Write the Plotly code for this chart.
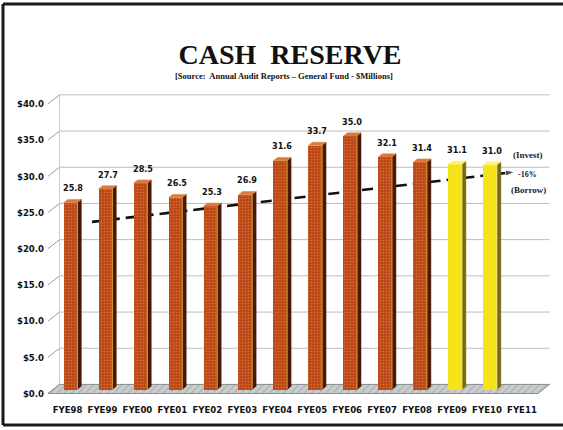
import plotly.graph_objects as go

# ---- data -------------------------------------------------------------
years = ["FYE98", "FYE99", "FYE00", "FYE01", "FYE02", "FYE03", "FYE04",
         "FYE05", "FYE06", "FYE07", "FYE08", "FYE09", "FYE10", "FYE11"]
reserve = [25.8, 27.7, 28.5, 26.5, 25.3, 26.9, 31.6,
           33.7, 35.0, 32.1, 31.4, 31.1, 31.0]          # $ millions
projected = [False] * 11 + [True] * 2                    # FYE09, FYE10 highlighted
y_ticks = [0, 5, 10, 15, 20, 25, 30, 35, 40]
y_tick_text = ["$0.0", "$5.0", "$10.0", "$15.0", "$20.0", "$25.0",
               "$30.0", "$35.0", "$40.0"]
trend_x = [0.70, 12.80]      # year-index positions of the trend arrow
trend_y = [23.7, 30.6]       # trend values at those positions

# ---- geometry of the oblique 3-D look -----------------------------------
X_RANGE = [-0.615, 13.86]
Y_RANGE = [-0.345, 42.47]
DEPTH_X, DEPTH_Y = 0.33, 1.25          # back wall offset (front -> back)
MID_X, MID_Y = 0.086, 0.55             # bars sit half-way in depth
BAR_W = 0.39
SIDE_X, SIDE_Y = 0.115, 0.45           # bar side / top face extent
FLOOR_L, FLOOR_R = -0.558, 13.46

L, R, T, B = 46, 11, 86, 34
W, H = 563, 430
PW, PH = W - L - R, H - T - B


def paper_x(px):
    return (px - L) / PW


def paper_y(py):
    return (H - B - py) / PH


ORANGE = dict(front="#bb4619", dots="#e99a40", side="#4a1806", top="#dc7a3e",
              edge="#e8b030")
YELLOW = dict(front="#f6e21a", dots="#fff27a", side="#7a680a", top="#fff36e",
              edge="#fff8a0")

fig = go.Figure()

# floor slab
fig.add_trace(go.Scatter(
    x=[FLOOR_L, FLOOR_R, FLOOR_R + DEPTH_X, FLOOR_L + DEPTH_X, FLOOR_L],
    y=[0, 0, DEPTH_Y, DEPTH_Y, 0],
    mode="lines", fill="toself", fillcolor="#c3c7c7",
    fillpattern=dict(shape="/", fgcolor="#8e9494", bgcolor="#c9cdcd",
                     size=5, solidity=0.25),
    line=dict(color="#8a8f8f", width=1), hoverinfo="skip", showlegend=False))

# bars: front faces
for group, colors in ((False, ORANGE), (True, YELLOW)):
    idx = [i for i, p in enumerate(projected) if p == group]
    fig.add_trace(go.Bar(
        x=idx, y=[reserve[i] for i in idx], width=BAR_W,
        xaxis="x2", yaxis="y2",
        marker=dict(color=colors["front"], line=dict(width=0),
                    pattern=dict(shape="." if not group else "",
                                 fgcolor=colors["dots"], size=3, solidity=0.25)),
        hoverinfo="skip", showlegend=False))

    # side and top faces, computed from the same values
    sx, sy, tx, ty, ex, ey = [], [], [], [], [], []
    for i in idx:
        v = reserve[i]
        r = i + BAR_W / 2
        l = i - BAR_W / 2
        sx += [r, r + SIDE_X, r + SIDE_X, r, r, None]
        sy += [0, SIDE_Y, v + SIDE_Y, v, 0, None]
        tx += [l, r, r + SIDE_X, l + SIDE_X, l, None]
        ty += [v, v, v + SIDE_Y, v + SIDE_Y, v, None]
        ex += [r, r, None]
        ey += [0, v, None]
    fig.add_trace(go.Scatter(x=sx, y=sy, xaxis="x2", yaxis="y2", mode="lines",
                             fill="toself", fillcolor=colors["side"],
                             line=dict(color=colors["side"], width=0.5),
                             hoverinfo="skip", showlegend=False))
    fig.add_trace(go.Scatter(x=tx, y=ty, xaxis="x2", yaxis="y2", mode="lines",
                             fill="toself", fillcolor=colors["top"],
                             line=dict(color=colors["top"], width=0.5),
                             hoverinfo="skip", showlegend=False))
    # thin light edge between front and side faces
    fig.add_trace(go.Scatter(x=ex, y=ey, xaxis="x2", yaxis="y2", mode="lines",
                             line=dict(color=colors["edge"], width=1),
                             hoverinfo="skip", showlegend=False))

# dashed trend arrow
fig.add_trace(go.Scatter(
    x=trend_x, y=trend_y, mode="lines+markers",
    line=dict(color="#111111", width=2.6, dash="11px,6px"),
    marker=dict(symbol="arrow", size=[0, 10], angleref="previous",
                color="#111111"),
    hoverinfo="skip", showlegend=False))

# back-wall grid, depth ticks and wall edge
shapes = []
for v in y_ticks:
    shapes.append(dict(type="line", xref="x", yref="y", layer="below",
                       x0=FLOOR_L + DEPTH_X, x1=FLOOR_R + DEPTH_X,
                       y0=v + DEPTH_Y, y1=v + DEPTH_Y,
                       line=dict(color="#bcbcbc", width=1)))
    shapes.append(dict(type="line", xref="x", yref="y", layer="below",
                       x0=FLOOR_L, x1=FLOOR_L + DEPTH_X,
                       y0=v, y1=v + DEPTH_Y,
                       line=dict(color="#9a9a9a", width=1)))
shapes.append(dict(type="line", xref="x", yref="y", layer="below",
                   x0=FLOOR_L + DEPTH_X, x1=FLOOR_L + DEPTH_X,
                   y0=DEPTH_Y, y1=y_ticks[-1] + DEPTH_Y,
                   line=dict(color="#cccccc", width=1)))

# page frame
frame = dict(color="#1a1a1a", width=3)
shapes.append(dict(type="line", xref="paper", yref="paper",
                   x0=paper_x(3), x1=paper_x(563), y0=paper_y(4), y1=paper_y(4),
                   line=frame))
shapes.append(dict(type="line", xref="paper", yref="paper",
                   x0=paper_x(3), x1=paper_x(3), y0=paper_y(4), y1=paper_y(425),
                   line=frame))
shapes.append(dict(type="line", xref="paper", yref="paper",
                   x0=paper_x(3), x1=paper_x(563), y0=paper_y(425), y1=paper_y(425),
                   line=frame))

narrow = "Liberation Sans Narrow, Arial Narrow, DejaVu Sans Condensed, sans-serif"
serif = "Liberation Serif, Times New Roman, serif"

annotations = []
for i, v in enumerate(reserve):
    annotations.append(dict(
        x=i + 0.06, y=v + SIDE_Y, xref="x2", yref="y2", text=f"{v:.1f}",
        showarrow=False, xanchor="center", yanchor="bottom", yshift=4,
        font=dict(family=narrow, size=9, weight="bold", color="#111111")))

for txt, px, py, size in (("(Invest)", 528, 155, 9), ("-16%", 527, 174, 8),
                          ("(Borrow)", 528, 190, 9)):
    annotations.append(dict(
        x=paper_x(px), y=paper_y(py), xref="paper", yref="paper", text=txt,
        showarrow=False, xanchor="center", yanchor="middle",
        font=dict(family=serif, size=size, weight="bold", color="#222222")))

annotations.append(dict(
    x=paper_x(284), y=paper_y(76), xref="paper", yref="paper",
    text="<b>[Source:  Annual Audit Reports – General Fund - $Millions]</b>",
    showarrow=False, xanchor="center", yanchor="middle",
    font=dict(family=serif, size=8.5, color="#111111")))

fig.update_layout(
    width=W, height=H, margin=dict(l=L, r=R, t=T, b=B, autoexpand=False),
    paper_bgcolor="white", plot_bgcolor="white",
    title=dict(text="<b>CASH  RESERVE</b>", x=290 / W, xanchor="center",
               y=1 - 54 / H, yanchor="middle", yref="container",
               font=dict(family=serif, size=28, color="#111111")),
    bargap=0,
    xaxis=dict(range=X_RANGE, tickvals=list(range(len(years))), ticktext=years,
               showgrid=False, zeroline=False, showline=False, ticks="",
               ticklabelstandoff=6, fixedrange=True,
               tickfont=dict(family=narrow, size=9.5, weight="bold",
                             color="#111111")),
    yaxis=dict(range=Y_RANGE, tickvals=y_ticks, ticktext=y_tick_text,
               showgrid=False, zeroline=False, showline=False, ticks="",
               ticklabelstandoff=1, fixedrange=True,
               tickfont=dict(family=narrow, size=9.5, weight="bold",
                             color="#111111")),
    xaxis2=dict(range=[X_RANGE[0] - MID_X, X_RANGE[1] - MID_X],
                overlaying="x", visible=False, fixedrange=True),
    yaxis2=dict(range=[Y_RANGE[0] - MID_Y, Y_RANGE[1] - MID_Y],
                overlaying="y", visible=False, fixedrange=True),
    shapes=shapes, annotations=annotations, showlegend=False,
)

fig.write_html("out.html")
